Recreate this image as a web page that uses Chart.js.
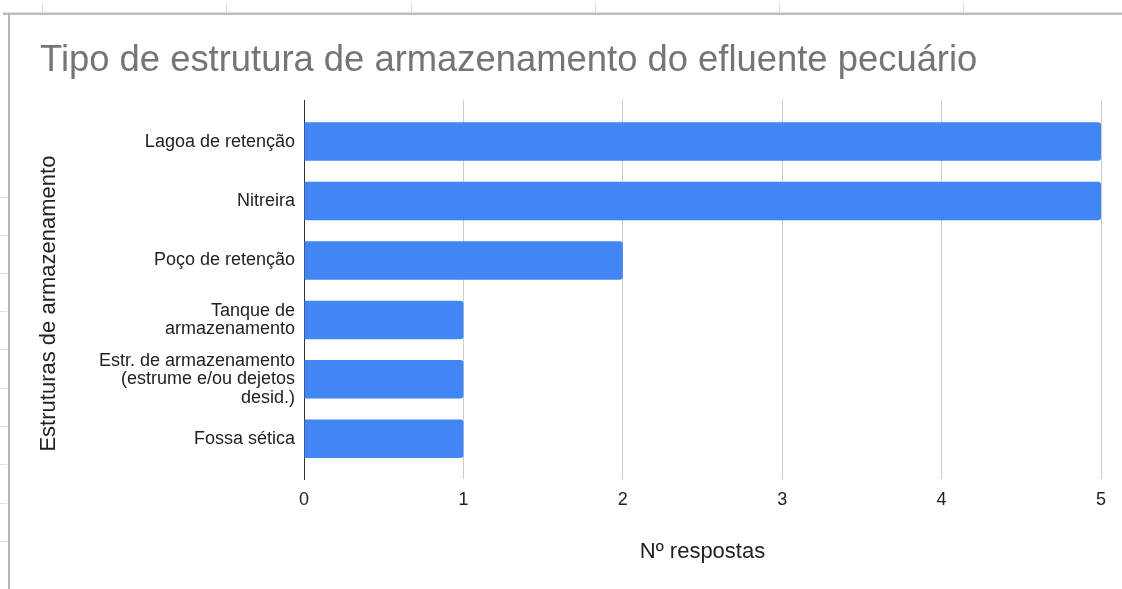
<!DOCTYPE html>
<html>
<head>
<meta charset="utf-8">
<script src="https://cdn.jsdelivr.net/npm/chart.js@4.4.1/dist/chart.umd.min.js"></script>
<style>
html,body{margin:0;padding:0;background:#fff;width:1122px;height:589px;overflow:hidden;}
#wrap{position:relative;width:1122px;height:589px;}
#wrap canvas{position:absolute;left:0;top:0;}
.d{position:absolute;}
.ct{top:3px;width:1px;height:10px;background:#dcdcdc;}
.rt{left:0;width:7px;height:1px;background:#dcdcdc;}
</style>
</head>
<body>
<div id="wrap">
  <!-- spreadsheet frame decoration -->
  <div class="d" style="left:3px;top:12px;width:1119px;height:1px;background:#dedede;"></div>
  <div class="d" style="left:3px;top:13px;width:1119px;height:2px;background:#bdbdbd;"></div>
  <div class="d" style="left:8px;top:13px;width:2px;height:576px;background:#b5b5b5;"></div>
  <div class="d ct" style="left:42px;"></div>
  <div class="d ct" style="left:226px;"></div>
  <div class="d ct" style="left:411px;"></div>
  <div class="d ct" style="left:595px;"></div>
  <div class="d ct" style="left:779px;"></div>
  <div class="d ct" style="left:963px;"></div>
  <div class="d rt" style="top:197px;"></div>
  <div class="d rt" style="top:235px;"></div>
  <div class="d rt" style="top:273px;"></div>
  <div class="d rt" style="top:311px;"></div>
  <div class="d rt" style="top:349px;"></div>
  <div class="d rt" style="top:388px;"></div>
  <div class="d rt" style="top:426px;"></div>
  <div class="d rt" style="top:464px;"></div>
  <div class="d rt" style="top:503px;"></div>
  <div class="d rt" style="top:541px;"></div>
  <canvas id="c" width="1122" height="589"></canvas>
</div>
<script>
// ---- data ----
const categories = [
  "Lagoa de retenção",
  "Nitreira",
  "Poço de retenção",
  ["Tanque de", "armazenamento"],
  ["Estr. de armazenamento", "(estrume e/ou dejetos", "desid.)"],
  "Fossa sética"
];
const respostas = [5, 5, 2, 1, 1, 1];
const xTickValues = [0, 1, 2, 3, 4, 5];
const chartTitle = "Tipo de estrutura de armazenamento do efluente pecuário";
const xTitle = "Nº respostas";
const yTitle = "Estruturas de armazenamento";

const FONT = "'Liberation Sans', Arial, sans-serif";
const points = categories.map((c, i) => ({ y: i, x: respostas[i] }));

new Chart(document.getElementById('c'), {
  type: 'bar',
  data: {
    datasets: [{
      data: points,
      backgroundColor: '#4285f4',
      borderWidth: 0,
      borderRadius: 3,
      categoryPercentage: 1,
      barPercentage: 0.6475
    }]
  },
  options: {
    indexAxis: 'y',
    responsive: false,
    animation: false,
    devicePixelRatio: 1,
    layout: { padding: { left: 40, right: 21, top: 0, bottom: 0 } },
    plugins: {
      legend: { display: false },
      tooltip: { enabled: false },
      title: {
        display: true,
        text: chartTitle,
        align: 'start',
        color: '#757575',
        font: { family: FONT, size: 36.4, weight: 'normal', lineHeight: 1.2 },
        padding: { top: 39.2, bottom: 17.2 }
      }
    },
    scales: {
      x: {
        type: 'linear',
        position: 'bottom',
        min: xTickValues[0],
        max: xTickValues[xTickValues.length - 1],
        afterFit: (s) => { s.height = 110; },
        afterBuildTicks: (s) => { s.ticks = xTickValues.map(v => ({ value: v })); },
        ticks: {
          color: '#222',
          padding: 10,
          font: { family: FONT, size: 18 },
          maxRotation: 0
        },
        grid: {
          drawTicks: false,
          color: (ctx) => ctx.index === 0 ? 'rgba(0,0,0,0)' : '#cccccc',
          lineWidth: 1
        },
        border: { display: false },
        title: {
          display: true,
          text: xTitle,
          color: '#222',
          font: { family: FONT, size: 22, lineHeight: 1.2 },
          padding: { top: 0, bottom: 23.8 }
        }
      },
      y: {
        type: 'linear',
        position: 'left',
        offset: false,
        reverse: true,
        min: -0.698,
        max: 5.676,
        afterFit: (s) => { s.width = 264; },
        ticks: {
          stepSize: 1,
          includeBounds: false,
          autoSkip: false,
          color: '#222',
          padding: 9,
          font: { family: FONT, size: 18, lineHeight: 1.03 },
          callback: (v) => (Number.isInteger(v) && v >= 0 && v < categories.length) ? categories[v] : ''
        },
        grid: { display: false, drawTicks: false },
        border: { display: true, color: '#333333', width: 1 },
        title: {
          display: true,
          text: yTitle + "\u2002\u2002 ",
          color: '#222',
          font: { family: FONT, size: 22, lineHeight: 1.2 },
          padding: { top: -4.7, bottom: 0 }
        }
      }
    }
  }
});
</script>
</body>
</html>
